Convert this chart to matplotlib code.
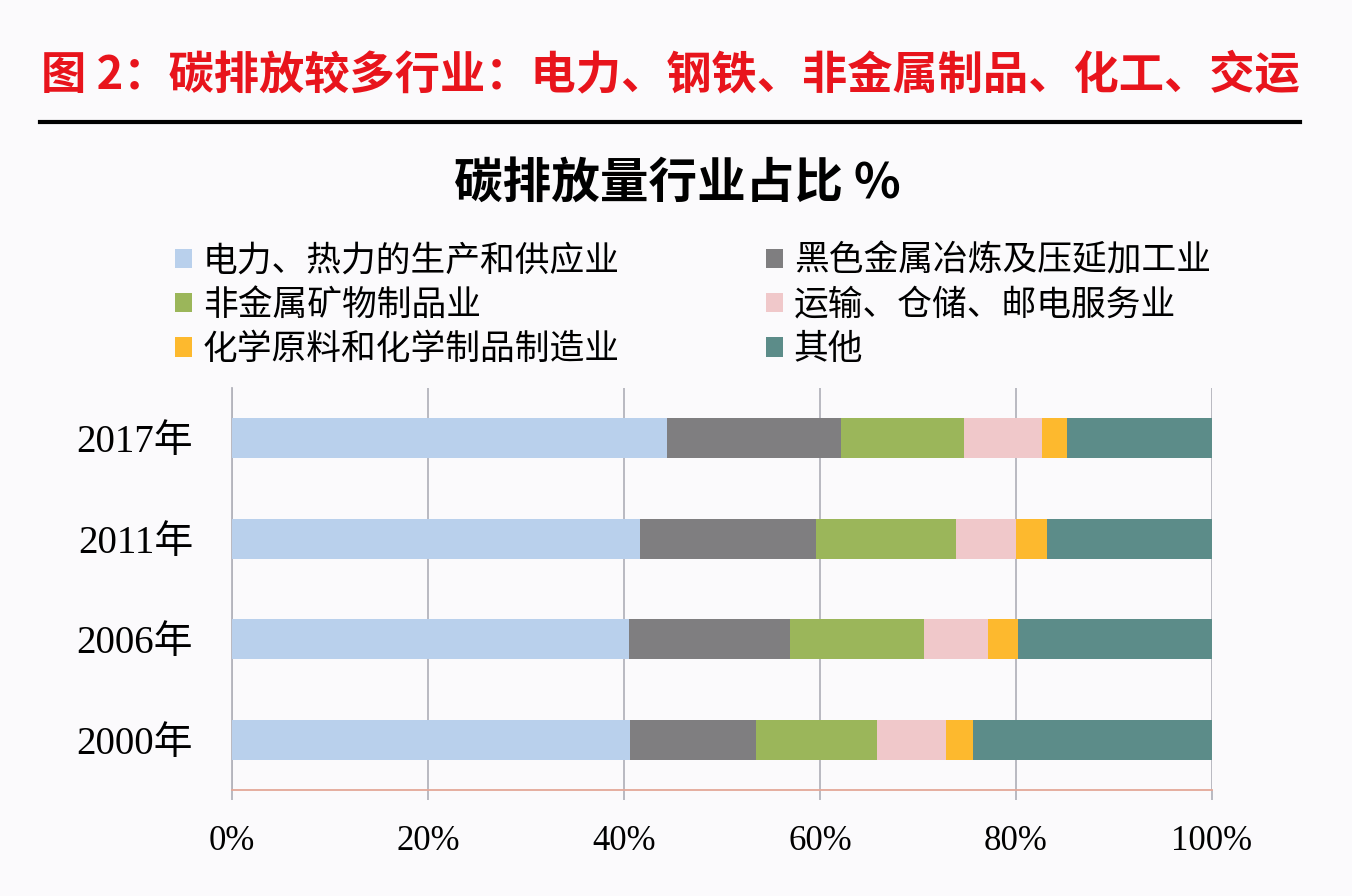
import matplotlib.pyplot as plt
from matplotlib.patches import Patch

# data
years = ["2017年", "2011年", "2006年", "2000年"]
industries = [
    "电力、热力的生产和供应业",
    "黑色金属冶炼及压延加工业",
    "非金属矿物制品业",
    "运输、仓储、邮电服务业",
    "化学原料和化学制品制造业",
    "其他",
]
power = [44.4, 41.6, 40.5, 40.6]
steel = [17.7, 18.0, 16.4, 12.9]
nonmetal = [12.6, 14.3, 13.7, 12.3]
transport = [8.0, 6.1, 6.5, 7.1]
chemical = [2.5, 3.2, 3.1, 2.7]
other = [14.8, 16.8, 19.8, 24.4]
series = [power, steel, nonmetal, transport, chemical, other]
colors = ["#b9d0ec", "#7f7e80", "#9bb65a", "#f0c8ca", "#fdb92e", "#5c8c89"]
xticks = [0, 20, 40, 60, 80, 100]

plt.rcParams['font.family'] = ['Noto Sans CJK SC', 'DejaVu Sans']
bg = "#fbfafc"

fig = plt.figure(figsize=(13.52, 8.96), dpi=100, facecolor=bg)
ax = fig.add_axes([232 / 1352, 1 - 790 / 896, 980 / 1352, 402 / 896])
ax.set_facecolor(bg)

# stacked horizontal bars
left = [0, 0, 0, 0]
for vals, col in zip(series, colors):
    ax.barh(range(len(years)), vals, left=left, height=0.4, color=col, zorder=3)
    left = [a + b for a, b in zip(left, vals)]

ax.set_xlim(0, 100)
ax.set_ylim(3.5, -0.5)
ax.set_xticks(xticks)
ax.set_xticklabels([f"{t}%" for t in xticks],
                   family=['Liberation Serif', 'DejaVu Serif'], fontsize=25)
ax.set_yticks(range(len(years)))
ax.set_yticklabels(years, family=['Liberation Serif', 'Noto Sans CJK SC'], fontsize=28)
ax.grid(axis='x', color="#b4b4bc", linewidth=1.3, zorder=0)
ax.tick_params(axis='x', length=7, width=1.3, color="#b4b4bc", pad=18)
ax.tick_params(axis='y', length=0, pad=28)
for s in ['top', 'right']:
    ax.spines[s].set_visible(False)
ax.spines['left'].set_color("#b4b4bc")
ax.spines['left'].set_linewidth(1.3)
ax.spines['bottom'].set_color("#e3a898")
ax.spines['bottom'].set_linewidth(1.3)

# legend in two columns
handles = [Patch(facecolor=c, edgecolor='none', label=l) for c, l in zip(colors, industries)]
leg_kw = dict(frameon=False, fontsize=25, handlelength=0.5, handleheight=0.5,
              handletextpad=0.3, labelspacing=0.26, borderaxespad=0, loc='upper left')
leg1 = fig.legend(handles=[handles[0], handles[2], handles[4]],
                  bbox_to_anchor=(161 / 1352, 1 - 230 / 896), **leg_kw)
leg2 = fig.legend(handles=[handles[1], handles[3], handles[5]],
                  bbox_to_anchor=(752 / 1352, 1 - 230 / 896), **leg_kw)

# titles
fig.text(670 / 1352, 1 - 75 / 896, "图 2：碳排放较多行业：电力、钢铁、非金属制品、化工、交运",
         color="#e8141c", fontsize=32.6, fontweight='bold', ha='center', va='center')
fig.add_artist(plt.Line2D([40 / 1352, 1300 / 1352], [1 - 122 / 896, 1 - 122 / 896],
                          color='black', linewidth=3))
fig.text(677 / 1352, 1 - 183 / 896, "碳排放量行业占比 %",
         color="black", fontsize=35, fontweight='bold', ha='center', va='center')

fig.savefig("out.png", dpi=100, facecolor=bg)
